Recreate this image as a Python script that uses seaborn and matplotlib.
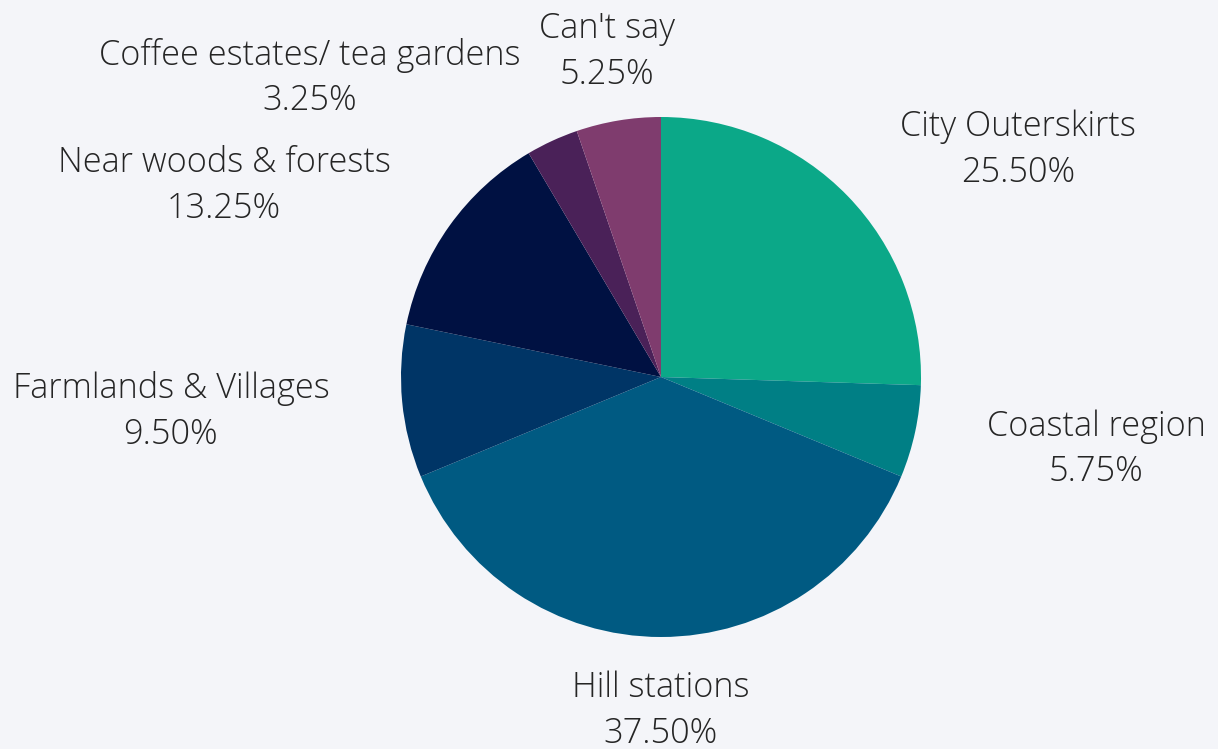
import matplotlib.pyplot as plt
import seaborn as sns

# data
categories = ['City Outerskirts', 'Coastal region', 'Hill stations', 'Farmlands & Villages',
              'Near woods & forests', 'Coffee estates/ tea gardens', "Can't say"]
shares = [25.50, 5.75, 37.50, 9.50, 13.25, 3.25, 5.25]
colors = ['#0ba888', '#007f85', '#005a82', '#003566', '#001142', '#4a2158', '#7f3c6e']

# label centres, in pie radii from the centre
label_pos = [(1.373, 0.873), (1.673, -0.278), (0.0, -1.285), (-1.885, -0.131),
             (-1.681, 0.734), (-1.35, 1.15), (-0.208, 1.25)]

sns.set_theme(style='white', rc={'figure.facecolor': '#f4f5f9', 'axes.facecolor': '#f4f5f9'})
plt.rcParams['font.family'] = ['Open Sans', 'DejaVu Sans']

fig = plt.figure(figsize=(12.18, 7.49), dpi=100)
ax = fig.add_axes([0, 0, 1, 1])
ax.pie(shares, colors=colors, startangle=90, counterclock=False, radius=1,
       wedgeprops={'linewidth': 0})

for name, val, (x, y) in zip(categories, shares, label_pos):
    ax.text(x, y, f'{name}\n{val:.2f}%', ha='center', va='center', fontsize=24.7,
            fontweight='light', color='#252525', linespacing=1.43)

# centre at (661, 377) px, radius 260 px
r = 260
ax.set_xlim(-661 / r, (1218 - 661) / r)
ax.set_ylim(-(749 - 377) / r, 377 / r)
ax.axis('off')

fig.savefig('out.png', dpi=100, facecolor=fig.get_facecolor())
